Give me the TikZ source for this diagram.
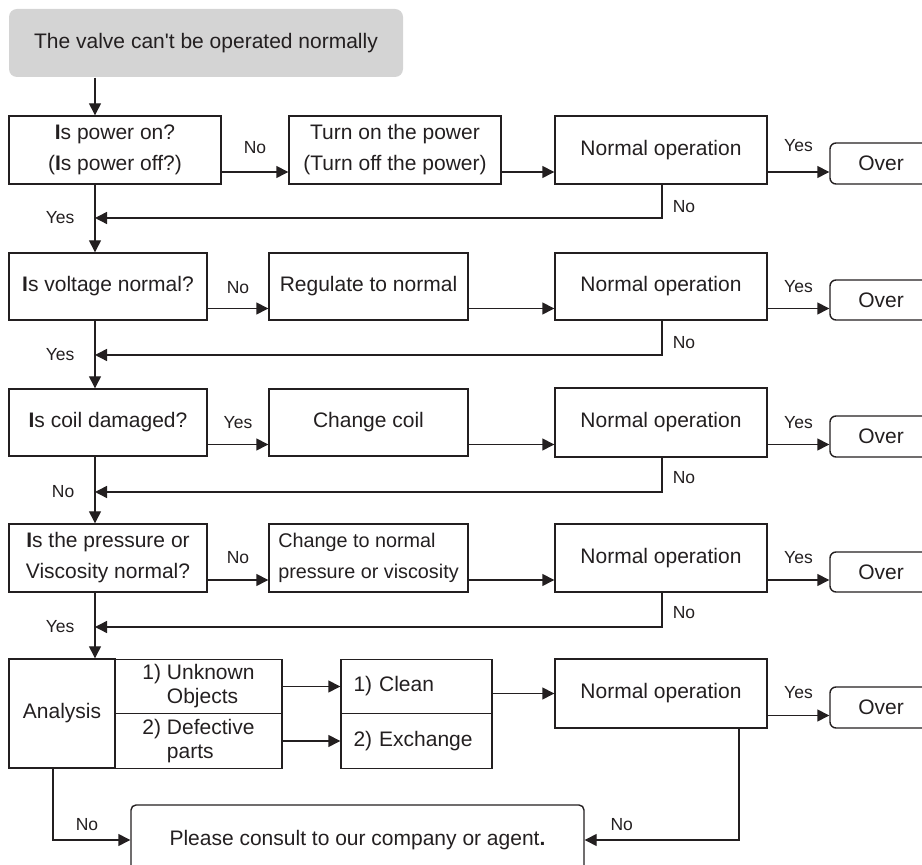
\documentclass[tikz,border=0pt]{standalone}
\usepackage{fontspec}
\setmainfont{Liberation Sans}
\usetikzlibrary{arrows.meta}

\definecolor{ink}{RGB}{35,31,32}
\definecolor{startgray}{RGB}{212,212,212}

\begin{document}
\begin{tikzpicture}[x=0.5pt, y=-0.5pt, line width=0.7pt, color=ink,
  >={Triangle[length=6pt,width=6pt]},
  font=\fontsize{10.5}{15.5}\selectfont,
  box/.style={draw, inner sep=0pt, minimum width=106pt, minimum height=34pt, align=center},
  smallbox/.style={box, minimum width=99pt, minimum height=33.5pt},
  subbox/.style={box, minimum width=83.5pt, minimum height=27.25pt, align=left,
    font=\fontsize{10.5}{12}\selectfont},
  fixbox/.style={box, minimum width=75.5pt, minimum height=27.25pt, align=left, text width=63pt},
  over/.style={draw, rounded corners=3pt, inner sep=0pt, minimum width=51pt, minimum height=20.5pt},
  startbox/.style={fill=startgray, rounded corners=4pt, inner sep=0pt, minimum width=197pt, minimum height=34pt},
  lbl/.style={inner sep=0pt, font=\fontsize{8.75}{10}\selectfont}]

  \useasboundingbox (0,0) rectangle (922,865);
  \clip (0,0) rectangle (922,865);

  \node[startbox] (start) at (206,43) {The valve can\textquotesingle t be operated normally};

  % row 1
  \node[box] (q1) at (115,150) {\textbf{I}s power on?\\(\textbf{I}s power off?)};
  \node[box] (a1) at (395,150) {Turn on the power\\(Turn off the power)};
  \node[box] (n1) at (661,150) {Normal operation};
  \node[over] (o1) at (881,163.5) {Over};

  % row 2
  \node[smallbox] (q2) at (108,286.5) {\textbf{I}s voltage normal?};
  \node[smallbox, minimum width=99.5pt] (a2) at (368.5,286.5) {Regulate to normal};
  \node[box, minimum height=33.5pt] (n2) at (661,286.5) {Normal operation};
  \node[over, minimum height=20pt] (o2) at (881,300) {Over};

  % row 3
  \node[smallbox] (q3) at (108,422.5) {\textbf{I}s coil damaged?};
  \node[smallbox, minimum width=99.5pt] (a3) at (368.5,422.5) {Change coil};
  \node[box, minimum height=34.5pt] (n3) at (661,422.5) {Normal operation};
  \node[over] (o3) at (881,436.5) {Over};

  % row 4
  \node[smallbox, minimum height=34pt] (q4) at (108,558) {\textbf{I}s the pressure or\\Viscosity normal?};
  \node[smallbox, minimum width=99.5pt, minimum height=34pt, align=left,
    font=\fontsize{9.9}{15.5}\selectfont] (a4) at (368.5,558) {Change to normal\\pressure or viscosity};
  \node[box] (n4) at (661,558) {Normal operation};
  \node[over, minimum height=20pt] (o4) at (881,572) {Over};

  % row 5
  \node[box, minimum width=53pt, minimum height=54.5pt] (an) at (62,713.5) {Analysis};
  \node[subbox] (s1) at (198.5,686.5) {1) Unknown\\\phantom{1) }Objects};
  \node[subbox] (s2) at (198.5,741) {2) Defective\\\phantom{2) }parts};
  \node[fixbox] (c1) at (416.5,686.5) {1) Clean};
  \node[fixbox] (c2) at (416.5,741) {2) Exchange};
  \node[box, minimum height=34.5pt] (n5) at (661,693.5) {Normal operation};
  \node[over] (o5) at (881,707.5) {Over};

  \node[draw, rounded corners=2.5pt, inner sep=0pt, minimum width=226.5pt, minimum height=35pt]
    (consult) at (357.5,840) {Please consult to our company or agent\textbf{.}};

  \coordinate (spine) at (95,0);
  \coordinate (b1) at (662,218);
  \coordinate (b2) at (662,355);
  \coordinate (b3) at (662,492);
  \coordinate (b4) at (662,627);
  \coordinate (d1) at (53,840);
  \coordinate (d2) at (739,840);

  % main line down the left
  \draw[->] (start.south -| spine) -- (q1.north -| spine);
  \draw[->] (q1.south -| spine) -- (q2.north -| spine);
  \draw[->] (q2.south -| spine) -- (q3.north -| spine);
  \draw[->] (q3.south -| spine) -- (q4.north -| spine);
  \draw[->] (q4.south -| spine) -- (an.north -| spine);

  % row 1
  \draw[->] ([yshift=-11pt]q1.east) -- node[lbl, yshift=12pt] {No} ([yshift=-11pt]q1.east -| a1.west);
  \draw[->] ([yshift=-11pt]a1.east) -- ([yshift=-11pt]a1.east -| n1.west);
  \draw[->] ([yshift=-11pt]n1.east) -- node[lbl, yshift=13pt] {Yes} ([yshift=-11pt]n1.east -| o1.west);
  \draw[->] (n1.south -| b1) -- (b1) node[lbl, xshift=11pt, yshift=5.5pt] {No}
    -- (b1 -| spine) node[lbl, anchor=east, xshift=-10pt] {Yes};

  % row 2
  \draw[->] ([yshift=-11pt]q2.east) -- node[lbl, yshift=10.5pt] {No} ([yshift=-11pt]q2.east -| a2.west);
  \draw[->] ([yshift=-11pt]a2.east) -- ([yshift=-11pt]a2.east -| n2.west);
  \draw[->] ([yshift=-11pt]n2.east) -- node[lbl, yshift=11pt] {Yes} ([yshift=-11pt]n2.east -| o2.west);
  \draw[->] (n2.south -| b2) -- (b2) node[lbl, xshift=11pt, yshift=6pt] {No}
    -- (b2 -| spine) node[lbl, anchor=east, xshift=-10pt] {Yes};

  % row 3
  \draw[->] ([yshift=-11pt]q3.east) -- node[lbl, yshift=11pt] {Yes} ([yshift=-11pt]q3.east -| a3.west);
  \draw[->] ([yshift=-11pt]a3.east) -- ([yshift=-11pt]a3.east -| n3.west);
  \draw[->] ([yshift=-11pt]n3.east) -- node[lbl, yshift=11pt] {Yes} ([yshift=-11pt]n3.east -| o3.west);
  \draw[->] (n3.south -| b3) -- (b3) node[lbl, xshift=11pt, yshift=7pt] {No}
    -- (b3 -| spine) node[lbl, anchor=east, xshift=-10pt] {No};

  % row 4
  \draw[->] ([yshift=-11pt]q4.east) -- node[lbl, yshift=11pt] {No} ([yshift=-11pt]q4.east -| a4.west);
  \draw[->] ([yshift=-11pt]a4.east) -- ([yshift=-11pt]a4.east -| n4.west);
  \draw[->] ([yshift=-11pt]n4.east) -- node[lbl, yshift=11pt] {Yes} ([yshift=-11pt]n4.east -| o4.west);
  \draw[->] (n4.south -| b4) -- (b4) node[lbl, xshift=11pt, yshift=7pt] {No}
    -- (b4 -| spine) node[lbl, anchor=east, xshift=-10pt] {Yes};

  % row 5
  \draw[->] (s1.east) -- (c1.west);
  \draw[->] (s2.east) -- (c2.west);
  \draw[->] (c1.east |- n5.west) -- (n5.west);
  \draw[->] ([yshift=-11pt]n5.east) -- node[lbl, yshift=11.5pt] {Yes} ([yshift=-11pt]n5.east -| o5.west);
  \draw[->] (an.south -| d1) |- node[lbl, pos=0.72, yshift=7.5pt] {No} (consult.west);
  \draw[->] (n5.south -| d2) |- node[lbl, pos=0.88, yshift=7.5pt] {No} (consult.east);
\end{tikzpicture}
\end{document}
